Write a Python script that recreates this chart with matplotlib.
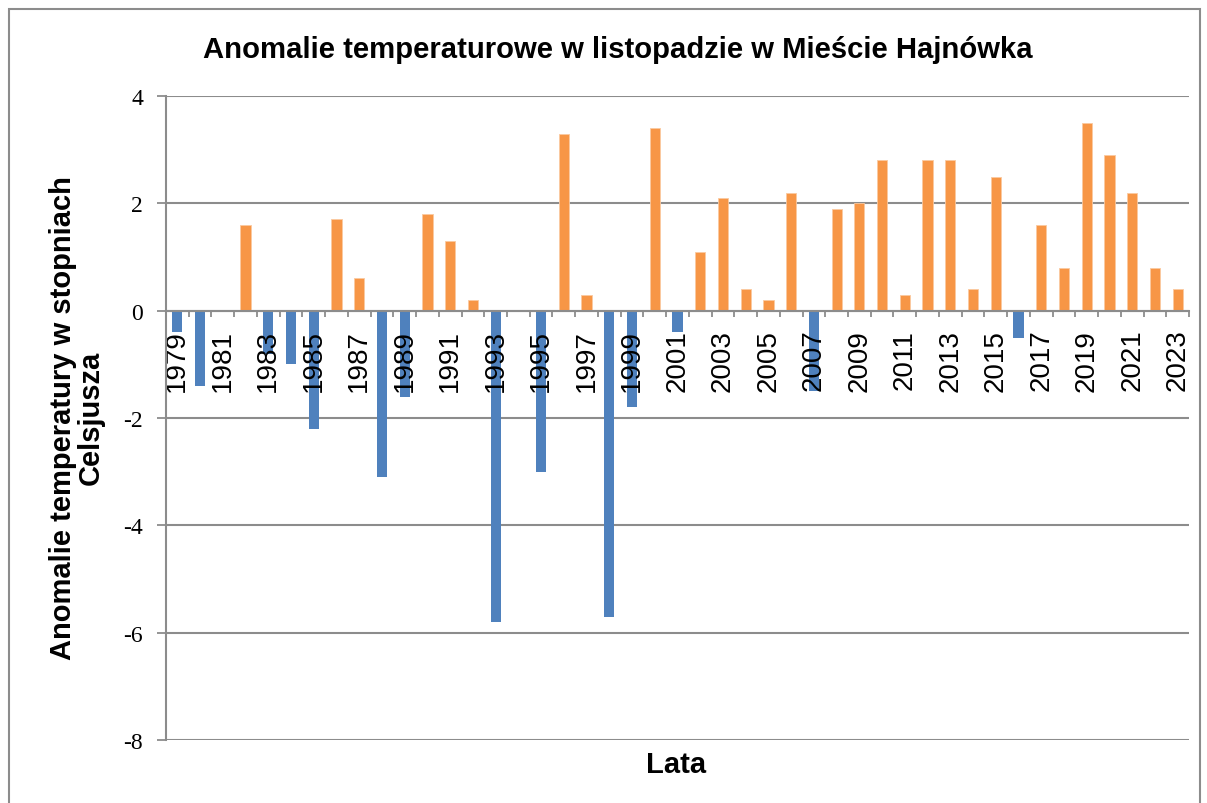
import matplotlib
matplotlib.use("Agg")
import matplotlib.pyplot as plt
from matplotlib.patches import Rectangle
import numpy as np

plt.rcParams["font.family"] = ["Liberation Sans", "DejaVu Sans"]

years = list(range(1979, 2024))
anomalies = [-0.4, -1.4, 0.0, 1.6, -0.8, -1.0, -2.2, 1.7, 0.6, -3.1,
             -1.6, 1.8, 1.3, 0.2, -5.8, 0.0, -3.0, 3.3, 0.3, -5.7,
             -1.8, 3.4, -0.4, 1.1, 2.1, 0.4, 0.2, 2.2, -1.5, 1.9,
             2.0, 2.8, 0.3, 2.8, 2.8, 0.4, 2.5, -0.5, 1.6, 0.8,
             3.5, 2.9, 2.2, 0.8, 0.4]
yticks = [-8, -6, -4, -2, 0, 2, 4]

title = "Anomalie temperaturowe w listopadzie w Mieście Hajnówka"
ylabel = "Anomalie temperatury w stopniach\nCelsjusza"
xlabel = "Lata"

blue = "#4F81BD"
orange = "#F79646"
grey = "#8C8C8C"

fig = plt.figure(figsize=(12.07, 8.04), dpi=100)
ax = fig.add_axes([166 / 1207, 1 - 741 / 804, (1189 - 166) / 1207, (741 - 97) / 804])

# outer chart frame
fig.patches.append(Rectangle((9 / 1207, -0.05), (1200 - 9) / 1207, 1.05 - 10 / 804,
                             transform=fig.transFigure, fill=False,
                             edgecolor=grey, linewidth=1.5))

x = np.arange(len(years))
vals = np.array(anomalies)
neg = vals < 0
pos = vals > 0
ax.bar(x[neg], vals[neg], width=0.45, color=blue, zorder=1)
ax.bar(x[pos], vals[pos], width=0.45, color=orange, edgecolor="#FAC9A0",
       linewidth=0.6, zorder=1)

for yt in yticks:
    ax.axhline(yt, color=grey, linewidth=1.5, zorder=0)

ax.spines["top"].set_visible(False)
ax.spines["right"].set_visible(False)
ax.spines["left"].set_color(grey)
ax.spines["left"].set_linewidth(1.5)
ax.spines["bottom"].set_position(("data", 0))
ax.spines["bottom"].set_color(grey)
ax.spines["bottom"].set_linewidth(1.5)

ax.set_xlim(-0.5, len(years) - 0.5)
ax.set_ylim(-8, 4)
ax.set_yticks(yticks)
ax.set_yticklabels([str(v) for v in yticks])
ax.tick_params(axis="y", length=6.5, width=1.3, color=grey, pad=10,
               labelsize=17, labelfontfamily="Liberation Serif")

ax.set_xticks(x[::2])
ax.set_xticklabels([str(y) for y in years[::2]])
ax.set_xticks(np.arange(-0.5, len(years), 1.0), minor=True)
ax.tick_params(axis="x", which="major", length=0, pad=13, labelsize=20,
               labelrotation=90, labelfontfamily="Liberation Sans")
ax.tick_params(axis="x", which="minor", length=4.5, width=1.3, color=grey)

for lbl in ax.get_yticklabels():
    lbl.set_fontfamily("Liberation Serif")
    lbl.set_fontsize(17)
for lbl in ax.get_xticklabels():
    lbl.set_fontsize(20)
    lbl.set_rotation(90)

fig.text(618 / 1207, 1 - 50 / 804, title, ha="center", va="center",
         fontweight="bold", fontsize=21.1)
fig.text(77 / 1207, 1 - 418 / 804, ylabel, ha="center", va="center", rotation=90,
         fontweight="bold", fontsize=21, linespacing=1.0)
fig.text(676 / 1207, 1 - 765 / 804, xlabel, ha="center", va="center",
         fontweight="bold", fontsize=21)

fig.savefig("out.png", dpi=100)
